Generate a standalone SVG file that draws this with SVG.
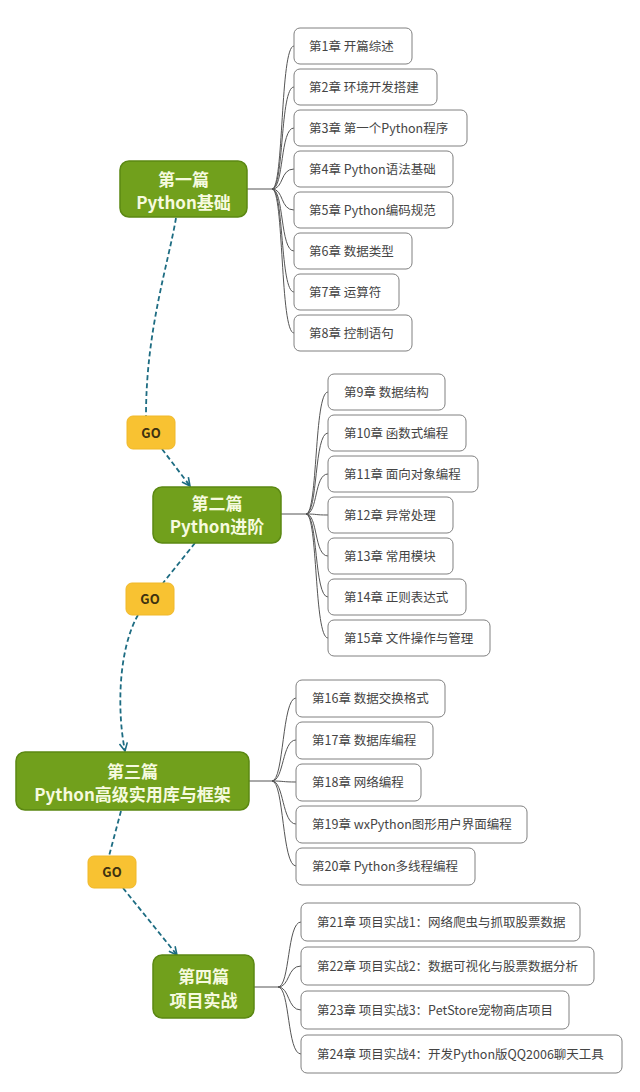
<svg xmlns="http://www.w3.org/2000/svg" width="640" height="1092" viewBox="0 0 640 1092">
<defs>
<style>
.part rect{fill:#71a01c;stroke:#5b8812;stroke-width:1.5}
.part text{font-family:"Noto Sans CJK SC","Liberation Sans",sans-serif;font-weight:bold;font-size:17px;fill:#f6fadf;text-anchor:middle}
.ch rect{fill:#fff;stroke:#808080;stroke-width:1}
.ch text{font-family:"Noto Sans CJK SC","Liberation Sans",sans-serif;font-size:12.5px;fill:#444}
.go rect{fill:#f8c232;stroke:#f0b829;stroke-width:1}
.go text{font-family:"Noto Sans CJK SC","Liberation Sans",sans-serif;font-weight:bold;font-size:13px;fill:#3e3210;text-anchor:middle}
.br path{fill:none;stroke:#555;stroke-width:1}
.dash path{fill:none;stroke:#1d6c82;stroke-width:1.8;stroke-dasharray:5,3}
</style>
<marker id="arr" viewBox="0 0 10 10" refX="9" refY="5" markerWidth="10" markerHeight="10" markerUnits="userSpaceOnUse" orient="auto">
<path d="M1,1 L9,5 L1,9" fill="none" stroke="#1d6c82" stroke-width="1.6"/>
</marker>
</defs>
<rect width="640" height="1092" fill="#fff"/>

<g id="connectors">
<g class="br">
<path d="M247,189 H272"/>
<path d="M272,189 C284,189 280,46 294,46"/>
<path d="M272,189 C284,189 280,87 294,87"/>
<path d="M272,189 C284,189 280,128 294,128"/>
<path d="M272,189 C284,189 280,169 294,169"/>
<path d="M272,189 C284,189 280,210 294,210"/>
<path d="M272,189 C284,189 280,251 294,251"/>
<path d="M272,189 C284,189 280,292 294,292"/>
<path d="M272,189 C284,189 280,333 294,333"/>

<path d="M281,514 H306"/>
<path d="M306,514 C318,514 314,392 328,392"/>
<path d="M306,514 C318,514 314,433 328,433"/>
<path d="M306,514 C318,514 314,474 328,474"/>
<path d="M306,514 C318,514 314,515 328,515"/>
<path d="M306,514 C318,514 314,556 328,556"/>
<path d="M306,514 C318,514 314,597 328,597"/>
<path d="M306,514 C318,514 314,638 328,638"/>

<path d="M249,781 H272"/>
<path d="M272,781 C284,781 282,698 296,698"/>
<path d="M272,781 C284,781 282,740 296,740"/>
<path d="M272,781 C284,781 282,782 296,782"/>
<path d="M272,781 C284,781 282,824 296,824"/>
<path d="M272,781 C284,781 282,866 296,866"/>

<path d="M254,987 H278"/>
<path d="M278,987 C290,987 287,922 301,922"/>
<path d="M278,987 C290,987 287,966 301,966"/>
<path d="M278,987 C290,987 287,1010 301,1010"/>
<path d="M278,987 C290,987 287,1054 301,1054"/>
</g>
<g class="dash">
<path d="M176,218 C168,265 146,330 146,416"/>
<path d="M162,449 L190,486" marker-end="url(#arr)"/>
<path d="M195,543 L163,583"/>
<path d="M138,615 C118,650 117,712 125,751" marker-end="url(#arr)"/>
<path d="M121,811 L109,856"/>
<path d="M123,888 L177,955" marker-end="url(#arr)"/>
</g>
</g>

<g id="part1" class="part"><rect x="120" y="161" width="127" height="56" rx="9"/><text x="183.5" y="186">第一篇</text><text x="183.5" y="209">Python基础</text></g>
<g id="part2" class="part"><rect x="153" y="487" width="128" height="56" rx="9"/><text x="217" y="510">第二篇</text><text x="217" y="533">Python进阶</text></g>
<g id="part3" class="part"><rect x="16" y="752" width="233" height="58" rx="9"/><text x="132.5" y="778">第三篇</text><text x="132.5" y="801">Python高级实用库与框架</text></g>
<g id="part4" class="part"><rect x="153" y="955" width="101" height="63" rx="9"/><text x="203.5" y="983">第四篇</text><text x="203.5" y="1007">项目实战</text></g>

<g id="go1" class="go"><rect x="127" y="416" width="48" height="33" rx="6"/><text x="151" y="437.5">GO</text></g>
<g id="go2" class="go"><rect x="126" y="583" width="48" height="32" rx="6"/><text x="150" y="603.5">GO</text></g>
<g id="go3" class="go"><rect x="88" y="856" width="48" height="32" rx="6"/><text x="112" y="876.5">GO</text></g>

<g id="ch1" class="ch"><rect x="294" y="28" width="118" height="36" rx="6"/><text x="309" y="51">第1章 开篇综述</text></g>
<g id="ch2" class="ch"><rect x="294" y="69" width="143" height="36" rx="6"/><text x="309" y="92">第2章 环境开发搭建</text></g>
<g id="ch3" class="ch"><rect x="294" y="110" width="173" height="36" rx="6"/><text x="309" y="133">第3章 第一个Python程序</text></g>
<g id="ch4" class="ch"><rect x="294" y="151" width="159" height="36" rx="6"/><text x="309" y="174">第4章 Python语法基础</text></g>
<g id="ch5" class="ch"><rect x="294" y="192" width="159" height="36" rx="6"/><text x="309" y="215">第5章 Python编码规范</text></g>
<g id="ch6" class="ch"><rect x="294" y="233" width="118" height="36" rx="6"/><text x="309" y="256">第6章 数据类型</text></g>
<g id="ch7" class="ch"><rect x="294" y="274" width="105" height="36" rx="6"/><text x="309" y="297">第7章 运算符</text></g>
<g id="ch8" class="ch"><rect x="294" y="315" width="118" height="36" rx="6"/><text x="309" y="338">第8章 控制语句</text></g>

<g id="ch9" class="ch"><rect x="328" y="374" width="117" height="36" rx="6"/><text x="344" y="397">第9章 数据结构</text></g>
<g id="ch10" class="ch"><rect x="328" y="415" width="138" height="36" rx="6"/><text x="344" y="438">第10章 函数式编程</text></g>
<g id="ch11" class="ch"><rect x="328" y="456" width="150" height="36" rx="6"/><text x="344" y="479">第11章 面向对象编程</text></g>
<g id="ch12" class="ch"><rect x="328" y="497" width="125" height="36" rx="6"/><text x="344" y="520">第12章 异常处理</text></g>
<g id="ch13" class="ch"><rect x="328" y="538" width="125" height="36" rx="6"/><text x="344" y="561">第13章 常用模块</text></g>
<g id="ch14" class="ch"><rect x="328" y="579" width="138" height="36" rx="6"/><text x="344" y="602">第14章 正则表达式</text></g>
<g id="ch15" class="ch"><rect x="328" y="620" width="162" height="36" rx="6"/><text x="344" y="643">第15章 文件操作与管理</text></g>

<g id="ch16" class="ch"><rect x="296" y="680" width="149" height="37" rx="6"/><text x="312" y="703">第16章 数据交换格式</text></g>
<g id="ch17" class="ch"><rect x="296" y="722" width="137" height="37" rx="6"/><text x="312" y="745">第17章 数据库编程</text></g>
<g id="ch18" class="ch"><rect x="296" y="764" width="125" height="37" rx="6"/><text x="312" y="787">第18章 网络编程</text></g>
<g id="ch19" class="ch"><rect x="296" y="806" width="231" height="37" rx="6"/><text x="312" y="829">第19章 wxPython图形用户界面编程</text></g>
<g id="ch20" class="ch"><rect x="296" y="848" width="179" height="37" rx="6"/><text x="312" y="871">第20章 Python多线程编程</text></g>

<g id="ch21" class="ch"><rect x="301" y="903" width="279" height="38" rx="6"/><text x="317" y="927">第21章 项目实战1：网络爬虫与抓取股票数据</text></g>
<g id="ch22" class="ch"><rect x="301" y="947" width="293" height="38" rx="6"/><text x="317" y="971">第22章 项目实战2：数据可视化与股票数据分析</text></g>
<g id="ch23" class="ch"><rect x="301" y="991" width="268" height="38" rx="6"/><text x="317" y="1015">第23章 项目实战3：PetStore宠物商店项目</text></g>
<g id="ch24" class="ch"><rect x="301" y="1035" width="321" height="38" rx="6"/><text x="317" y="1059">第24章 项目实战4：开发Python版QQ2006聊天工具</text></g>
</svg>
